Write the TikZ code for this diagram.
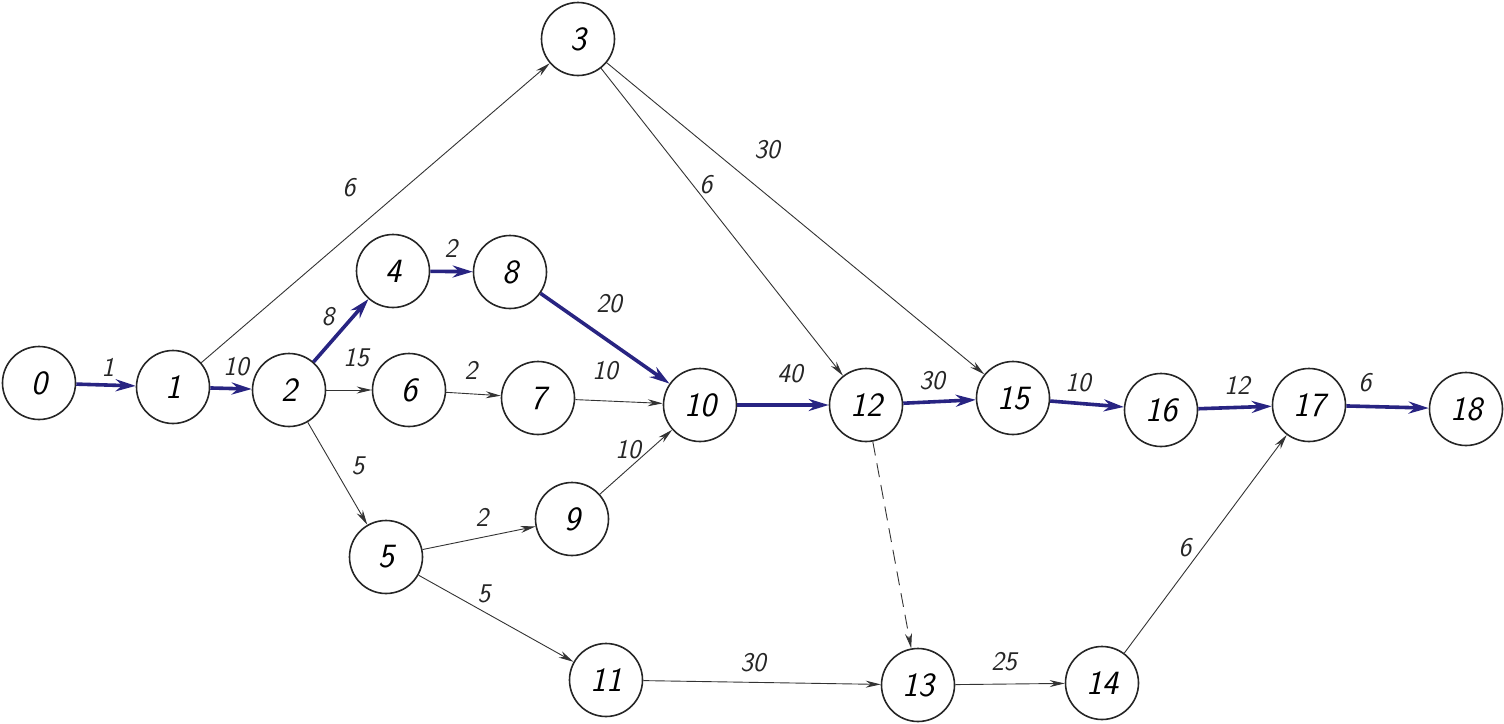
\documentclass[tikz,border=0pt]{standalone}
\usetikzlibrary{arrows.meta}
\definecolor{critblue}{RGB}{40,36,130}
\begin{document}
\begin{tikzpicture}[x=1pt,y=-1pt,
  ev/.style={circle, draw=black!85, line width=1.6pt, minimum size=73pt, inner sep=0pt,
    font=\fontsize{34}{34}\selectfont\sffamily\itshape},
  thinarr/.style={draw=black!80, line width=0.9pt, -{Stealth[length=15pt,width=7pt]}},
  dasharr/.style={thinarr, dash pattern=on 14pt off 8pt},
  crit/.style={draw=critblue, line width=3.6pt, -{Stealth[length=20pt,width=12pt]}},
  lbl/.style={font=\fontsize{27}{27}\selectfont\sffamily\itshape, text=black!85}
]
\useasboundingbox (0,0) rectangle (1504,723);
\fill[white] (0,0) rectangle (1504,723);
% events
\node[ev] (n0) at (39,383) {0};
\node[ev] (n1) at (173,387) {1};
\node[ev] (n2) at (289,390) {2};
\node[ev] (n3) at (578,39) {3};
\node[ev] (n4) at (393,271) {4};
\node[ev] (n8) at (510,272) {8};
\node[ev] (n6) at (409,390) {6};
\node[ev] (n7) at (538,398) {7};
\node[ev] (n10) at (700,405) {10};
\node[ev] (n5) at (386,557) {5};
\node[ev] (n9) at (572,519) {9};
\node[ev] (n11) at (606,680) {11};
\node[ev] (n12) at (866,405) {12};
\node[ev] (n13) at (918,685) {13};
\node[ev] (n14) at (1102,683) {14};
\node[ev] (n15) at (1013,398) {15};
\node[ev] (n16) at (1161,410) {16};
\node[ev] (n17) at (1309,405) {17};
\node[ev] (n18) at (1466,409) {18};
% critical path
\draw[crit] (n0) -- (n1);
\draw[crit] (n1) -- (n2);
\draw[crit] (n2) -- (n4);
\draw[crit] (n4) -- (n8);
\draw[crit] (n8) -- (n10);
\draw[crit] (n10) -- (n12);
\draw[crit] (n12) -- (n15);
\draw[crit] (n15) -- (n16);
\draw[crit] (n16) -- (n17);
\draw[crit] (n17) -- (n18);
% other activities
\draw[thinarr] (n1) -- (n3);
\draw[thinarr] (n2) -- (n6);
\draw[thinarr] (n6) -- (n7);
\draw[thinarr] (n7) -- (n10);
\draw[thinarr] (n2) -- (n5);
\draw[thinarr] (n5) -- (n9);
\draw[thinarr] (n9) -- (n10);
\draw[thinarr] (n5) -- (n11);
\draw[thinarr] (n11) -- (n13);
\draw[thinarr] (n13) -- (n14);
\draw[thinarr] (n14) -- (n17);
\draw[thinarr] (n3) -- (n12);
\draw[thinarr] (n3) -- (n15);
\draw[dasharr] (n12) -- (n13);
% durations
\node[lbl] (l01) at (108,367) {1};
\node[lbl] (l12) at (236,367) {10};
\node[lbl] (l24) at (328,317) {8};
\node[lbl] (l26) at (356,358) {15};
\node[lbl] (l48) at (451,248) {2};
\node[lbl] (l810) at (609,304) {20};
\node[lbl] (l67) at (471,370) {2};
\node[lbl] (l710) at (605,371) {10};
\node[lbl] (l910) at (628,450) {10};
\node[lbl] (l25) at (358,466) {5};
\node[lbl] (l59) at (482,517) {2};
\node[lbl] (l511) at (484,594) {5};
\node[lbl] (l1113) at (753,663) {30};
\node[lbl] (l1314) at (1004,662) {25};
\node[lbl] (l1417) at (1185,548) {6};
\node[lbl] (l1012) at (790,374) {40};
\node[lbl] (l1215) at (932,381) {30};
\node[lbl] (l1516) at (1078,383) {10};
\node[lbl] (l1617) at (1237,385) {12};
\node[lbl] (l1718) at (1365,383) {6};
\node[lbl] (l13) at (349,188) {6};
\node[lbl] (l312) at (706,185) {6};
\node[lbl] (l315) at (767,150) {30};
\end{tikzpicture}
\end{document}
